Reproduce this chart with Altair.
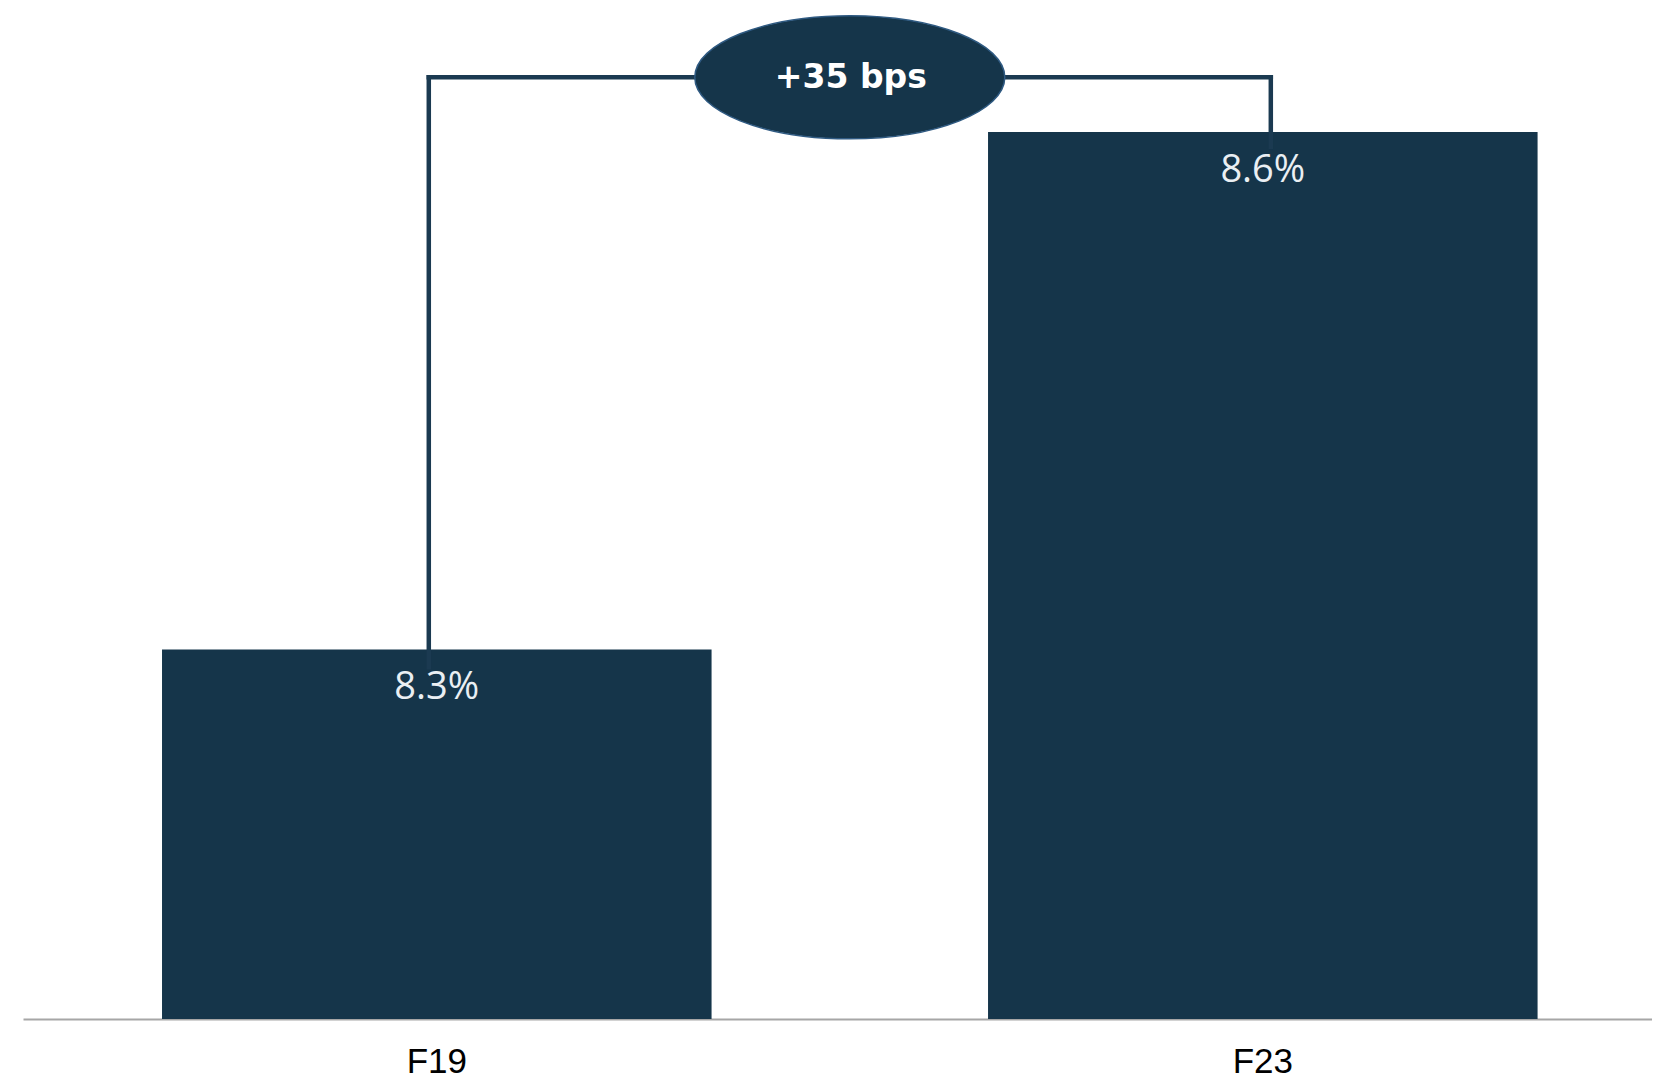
import altair as alt
import pandas as pd

# ---- data ----
periods = ["F19", "F23"]
values = [8.25, 8.60]            # % (difference = +35 bps)
labels = ["8.3%", "8.6%"]
base = [8.0, 8.0]                # axis floor of the value scale

bracket_level = 8.637            # height of the connector bracket
bracket_ends = [8.238, 8.590]    # where the bracket legs end (just inside the bars)
badge_text = "+35 bps"

BAR = "#15354a"
LINE = "#1b3a51"

bars_df = pd.DataFrame({"period": periods, "value": values, "base": base, "label": labels})
legs_df = pd.DataFrame({"period": periods, "top": [bracket_level] * 2, "end": bracket_ends})
span_df = pd.DataFrame({"period": [periods[0]], "period2": [periods[1]], "top": [bracket_level]})
badge_df = pd.DataFrame({"period": [periods[0]], "top": [bracket_level], "text": [badge_text]})

xscale = alt.Scale(domain=periods, range=[0, 1653.6], paddingInner=0.3347, paddingOuter=0.1683)
yscale = alt.Scale(domain=[8.0, 8.6839], nice=False, zero=False)

X = alt.X("period:N", scale=xscale, sort=periods, title=None,
          axis=alt.Axis(labelAngle=0, ticks=False, labelFont="Liberation Sans",
                        labelFontSize=35, labelColor="#000000", labelPadding=25,
                        domainColor="#a6a6a6", domainWidth=2, grid=False))

bars = alt.Chart(bars_df).mark_bar(color=BAR).encode(
    x=X,
    y=alt.Y("value:Q", scale=yscale, axis=None),
    y2="base:Q",
)

bar_labels = alt.Chart(bars_df).mark_text(
    font="Open Sans", fontSize=38, color="#eaeff3", baseline="middle", dy=39
).encode(x=X, y=alt.Y("value:Q", scale=yscale, axis=None), text="label:N")

leg_left = alt.Chart(legs_df).transform_filter(alt.datum.period == periods[0]).mark_rule(
    color=LINE, strokeWidth=4.5, strokeCap="square", xOffset=-8
).encode(x=X, y=alt.Y("top:Q", scale=yscale, axis=None), y2="end:Q")

leg_right = alt.Chart(legs_df).transform_filter(alt.datum.period == periods[1]).mark_rule(
    color=LINE, strokeWidth=4.5, strokeCap="square", xOffset=8
).encode(x=X, y=alt.Y("top:Q", scale=yscale, axis=None), y2="end:Q")

span = alt.Chart(span_df).mark_rule(
    color=LINE, strokeWidth=4.5, strokeCap="square", xOffset=-8, x2Offset=8
).encode(x=X, x2="period2:N", y=alt.Y("top:Q", scale=yscale, axis=None))

ellipse_path = "M -1 0 A 1 0.397 0 1 1 1 0 A 1 0.397 0 1 1 -1 0 Z"
badge = alt.Chart(badge_df).mark_point(
    shape=ellipse_path, size=310 * 310, filled=True, fill=BAR, stroke="#2f5a82",
    strokeWidth=1.5, opacity=1, fillOpacity=1, xOffset=413
).encode(x=X, y=alt.Y("top:Q", scale=yscale, axis=None))

badge_label = alt.Chart(badge_df).mark_text(
    font="DejaVu Sans", fontWeight="bold", fontSize=33, color="#ffffff",
    baseline="middle", xOffset=414, dy=1
).encode(x=X, y=alt.Y("top:Q", scale=yscale, axis=None), text="text:N")

chart = alt.layer(bars, bar_labels, leg_left, leg_right, span, badge, badge_label).properties(
    width=1629, height=1011,
    autosize=alt.AutoSizeParams(type="none"),
    padding={"left": 15, "top": 0, "right": 0, "bottom": 61},
    background="#ffffff",
).configure_view(stroke=None)

chart.save("out.html", embed_options={"renderer": "svg", "actions": False})
